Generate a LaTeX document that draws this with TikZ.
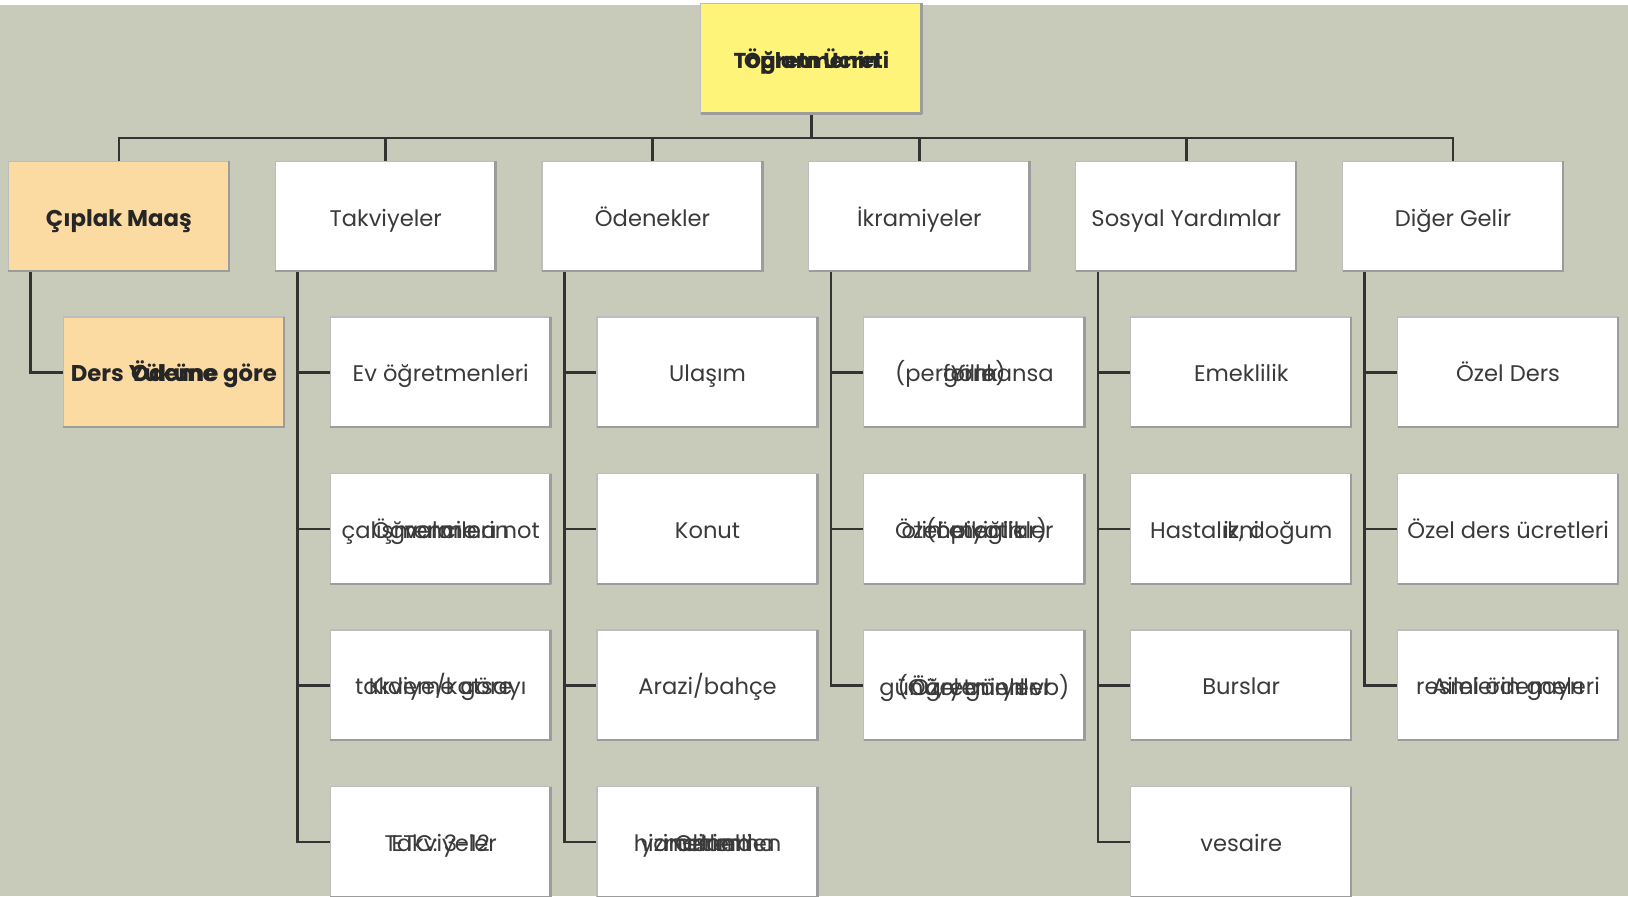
\documentclass[tikz,border=0pt]{standalone}
\usepackage{fontspec}
\setmainfont{Poppins}
\definecolor{bgc}{HTML}{C8CBB9}
\definecolor{yel}{HTML}{FFF47A}
\definecolor{ora}{HTML}{FCDBA3}
\definecolor{txt}{HTML}{3A3A3A}
\definecolor{linec}{HTML}{333333}
\definecolor{edgel}{HTML}{BDBDBD}
\definecolor{edged}{HTML}{9C9C9C}
\newcommand{\topstrut}{\lineskiplimit=-20pt\relax\rule{0pt}{13.6pt}}
\newcommand{\botstrut}{\rule[-4pt]{0pt}{4pt}}
\newcommand{\mlines}[1]{\begin{tabular}{@{}c@{}}#1\end{tabular}}
\tikzset{
  box/.style={draw=edgel, line width=0.6pt, fill=white, minimum width=110.5pt, minimum height=55.3pt,
    inner sep=1pt, align=center, text=txt, font=\fontsize{11.3}{12.9}\selectfont,
    execute at begin node=\topstrut, execute at end node=\botstrut,
    append after command={
      ([xshift=-0.6pt,yshift=0.3pt]\tikzlastnode.south east) edge[bevedge] ([xshift=-0.6pt,yshift=-0.3pt]\tikzlastnode.north east)
      ([xshift=-0.3pt,yshift=0.6pt]\tikzlastnode.south east) edge[bevedge] ([xshift=0.3pt,yshift=0.6pt]\tikzlastnode.south west)
    }},
  bevedge/.style={draw=edged, line width=1.2pt},
  boldbox/.style={box, font=\fontsize{11.4}{12}\selectfont\bfseries, text=black!85},
  topbox/.style={box, font=\fontsize{10.8}{12.4}\selectfont\bfseries, text=black!85},
  conn/.style={draw=linec, line width=1.3pt, line join=miter},
}
\begin{document}
\begin{tikzpicture}[x=0.519pt,y=-0.519pt]
\useasboundingbox (0,0) rectangle (1568,863);
\clip (0,0) rectangle (1568,863);
\fill[bgc] (0,0) rectangle (1568,863);
\fill[white] (0,0) rectangle (1568,5);
\coordinate (bus) at (0,133);

% top
\node[topbox, fill=yel] (top) at (781.5,56.5) {\mlines{Öğretmenin\\Toplam Ücreti}};

% first level
\node[boldbox, fill=ora] (p1) at (114.5,208.5) {Çıplak Maaş};
\node[box] (p2) at (371.5,208.5) {Takviyeler};
\node[box] (p3) at (628.5,208.5) {Ödenekler};
\node[box] (p4) at (885.5,208.5) {İkramiyeler};
\node[box] (p5) at (1142.5,208.5) {Sosyal Yardımlar};
\node[box] (p6) at (1399.5,208.5) {Diğer Gelir};

% children
\node[boldbox, fill=ora] (c1a) at (167.5,358.5) {\mlines{Ders Yüküne göre\\Ödeme}};

\node[box] (c2a) at (424.5,358.5) {Ev öğretmenleri};
\node[box] (c2b) at (424.5,509.5) {\mlines{Öğrencilerin\\çalışmalarına not\\verme}};
\node[box] (c2c) at (424.5,660) {\mlines{Kıdeme göre\\takviye/katsayı}};
\node[box] (c2d) at (424.5,811) {\mlines{ETC: 3-12\\Takviyeler}};

\node[box] (c3a) at (681.5,358.5) {Ulaşım};
\node[box] (c3b) at (681.5,509.5) {Konut};
\node[box] (c3c) at (681.5,660) {Arazi/bahçe};
\node[box] (c3d) at (681.5,811) {\mlines{Genel\\hizmetlerden\\indirimli\\yararlanma}};

\node[box] (c4a) at (938.5,358.5) {\mlines{Yıllık\\[5pt](performansa\\göre)}};
\node[box] (c4b) at (938.5,509.5) {\mlines{Özel etkinlikler\\(örneğin\\olimpiyatlar)}};
\node[box] (c4c) at (938.5,660) {\mlines{Özel günler\\(Öğretmenler\\günü, yeni yıl vb)}};

\node[box] (c5a) at (1195.5,358.5) {Emeklilik};
\node[box] (c5b) at (1195.5,509.5) {\mlines{Hastalık, doğum\\izni}};
\node[box] (c5c) at (1195.5,660) {Burslar};
\node[box] (c5d) at (1195.5,811) {vesaire};

\node[box] (c6a) at (1452.5,358.5) {Özel Ders};
\node[box] (c6b) at (1452.5,509.5) {Özel ders ücretleri};
\node[box] (c6c) at (1452.5,660) {\mlines{Ailelerin gayrı\\resmi ödemeleri}};

% bus
\draw[conn] (top.south) -- (top.south |- bus);
\foreach \p in {p1,p2,p3,p4,p5,p6}
  \draw[conn] (\p.north) |- (top.south |- bus);

% spines
\draw[conn] ([xshift=11.4pt]p1.south west) |- (c1a.west);
\foreach \c in {c2a,c2b,c2c,c2d}
  \draw[conn] ([xshift=11.4pt]p2.south west) |- (\c.west);
\foreach \c in {c3a,c3b,c3c,c3d}
  \draw[conn] ([xshift=11.4pt]p3.south west) |- (\c.west);
\foreach \c in {c4a,c4b,c4c}
  \draw[conn] ([xshift=11.4pt]p4.south west) |- (\c.west);
\foreach \c in {c5a,c5b,c5c,c5d}
  \draw[conn] ([xshift=11.4pt]p5.south west) |- (\c.west);
\foreach \c in {c6a,c6b,c6c}
  \draw[conn] ([xshift=11.4pt]p6.south west) |- (\c.west);
\end{tikzpicture}
\end{document}
